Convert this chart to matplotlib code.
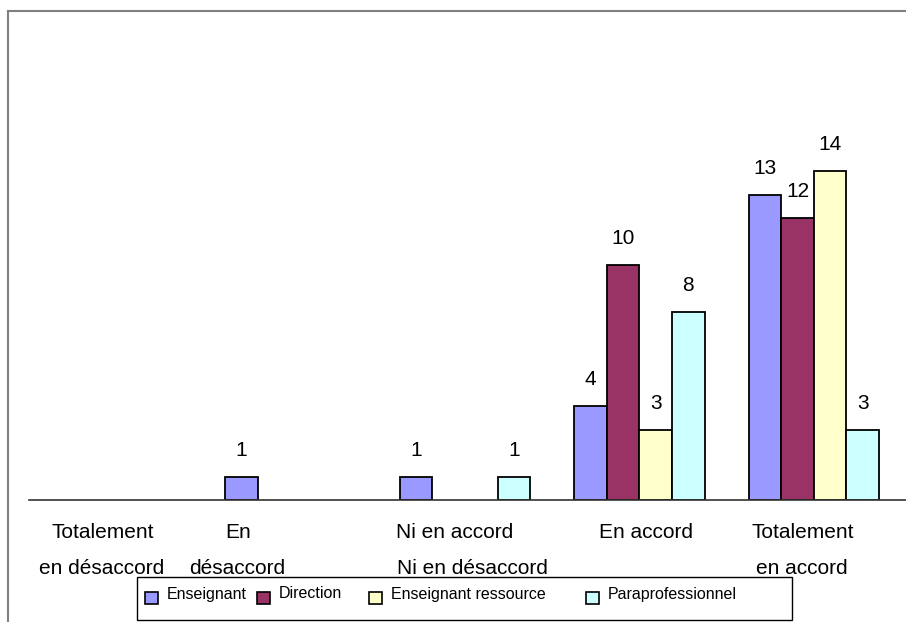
import numpy as np
import matplotlib.pyplot as plt
from matplotlib.patches import Rectangle
from matplotlib.lines import Line2D

plt.rcParams['font.family'] = ['Liberation Sans', 'DejaVu Sans']

# Réponses par catégorie et par groupe de répondants
categories = [
    ("Totalement", "en désaccord"),
    ("En", "désaccord"),
    ("Ni en accord", "Ni en désaccord"),
    ("En accord", ""),
    ("Totalement", "en accord"),
]
series = ["Enseignant", "Direction", "Enseignant ressource", "Paraprofessionnel"]
enseignant = [0, 1, 1, 4, 13]
direction = [0, 0, 0, 10, 12]
ens_ressource = [0, 0, 0, 3, 14]
paraprof = [0, 0, 1, 8, 3]
valeurs = [enseignant, direction, ens_ressource, paraprof]
couleurs = ["#9999FF", "#993366", "#FFFFCC", "#CCFFFF"]

W, H = 906, 622
fig = plt.figure(figsize=(W / 100, H / 100), dpi=100)


def px(x, y):
    # pixels (origine en haut à gauche) -> fraction de la figure
    return x / W, 1 - y / H


# cadre extérieur gris
fig.add_artist(Line2D([8 / W, 8 / W], [0, 1 - 11 / H], transform=fig.transFigure,
                      color="#808080", lw=1.5))
fig.add_artist(Line2D([8 / W, 1], [1 - 11 / H, 1 - 11 / H], transform=fig.transFigure,
                      color="#808080", lw=1.5))

# zone de tracé : une catégorie = 174 px, l'axe va jusqu'au bord droit
x0, y0 = px(29, 500)
x1, y1 = px(906, 30)
ax = fig.add_axes([x0, y0, x1 - x0, y1 - y0])

x = np.arange(len(categories))
largeur = 0.187
for i, (nom, vals, c) in enumerate(zip(series, valeurs, couleurs)):
    pos = x + (i - 1.5) * largeur
    for xp, v in zip(pos, vals):
        if v == 0:
            continue
        ax.bar(xp, v, largeur, color=c, edgecolor="black", linewidth=1.3, zorder=2)
        ax.annotate(str(v), (xp, v), xytext=(0, 19), textcoords="offset points",
                    ha="center", va="center", fontsize=15)

ax.set_xlim(-0.5, len(categories) - 0.5 + 5 / 174)
ax.set_ylim(0, 20)
ax.set_xticks([])
ax.set_yticks([])
for s in ["top", "right", "left"]:
    ax.spines[s].set_visible(False)
ax.spines["bottom"].set_color("#333333")
ax.spines["bottom"].set_linewidth(1.2)
ax.patch.set_alpha(0)

# étiquettes des catégories, deux lignes chacune
centres_l1 = [103, 238, 455, 646, 803]
centres_l2 = [102, 237, 472, 646, 802]
for (l1, l2), c1, c2 in zip(categories, centres_l1, centres_l2):
    fig.text(*px(c1, 532), l1, ha="center", va="center", fontsize=15)
    if l2:
        fig.text(*px(c2, 568), l2, ha="center", va="center", fontsize=15)

# légende
bx0, by0 = px(137, 620)
bx1, by1 = px(792, 577)
fig.add_artist(Rectangle((bx0, by0), bx1 - bx0, by1 - by0, transform=fig.transFigure,
                         facecolor="white", edgecolor="black", lw=1.0))
carres = [145, 257, 369, 586]
for nom, c, xs in zip(series, couleurs, carres):
    cx, cy = px(xs, 604)
    fig.add_artist(Rectangle((cx, cy), 13 / W, 12 / H, transform=fig.transFigure,
                             facecolor=c, edgecolor="black", lw=1.2))
    fig.text(*px(xs + 22, 594), nom, ha="left", va="center", fontsize=11.5)

plt.savefig("out.png", dpi=100)
